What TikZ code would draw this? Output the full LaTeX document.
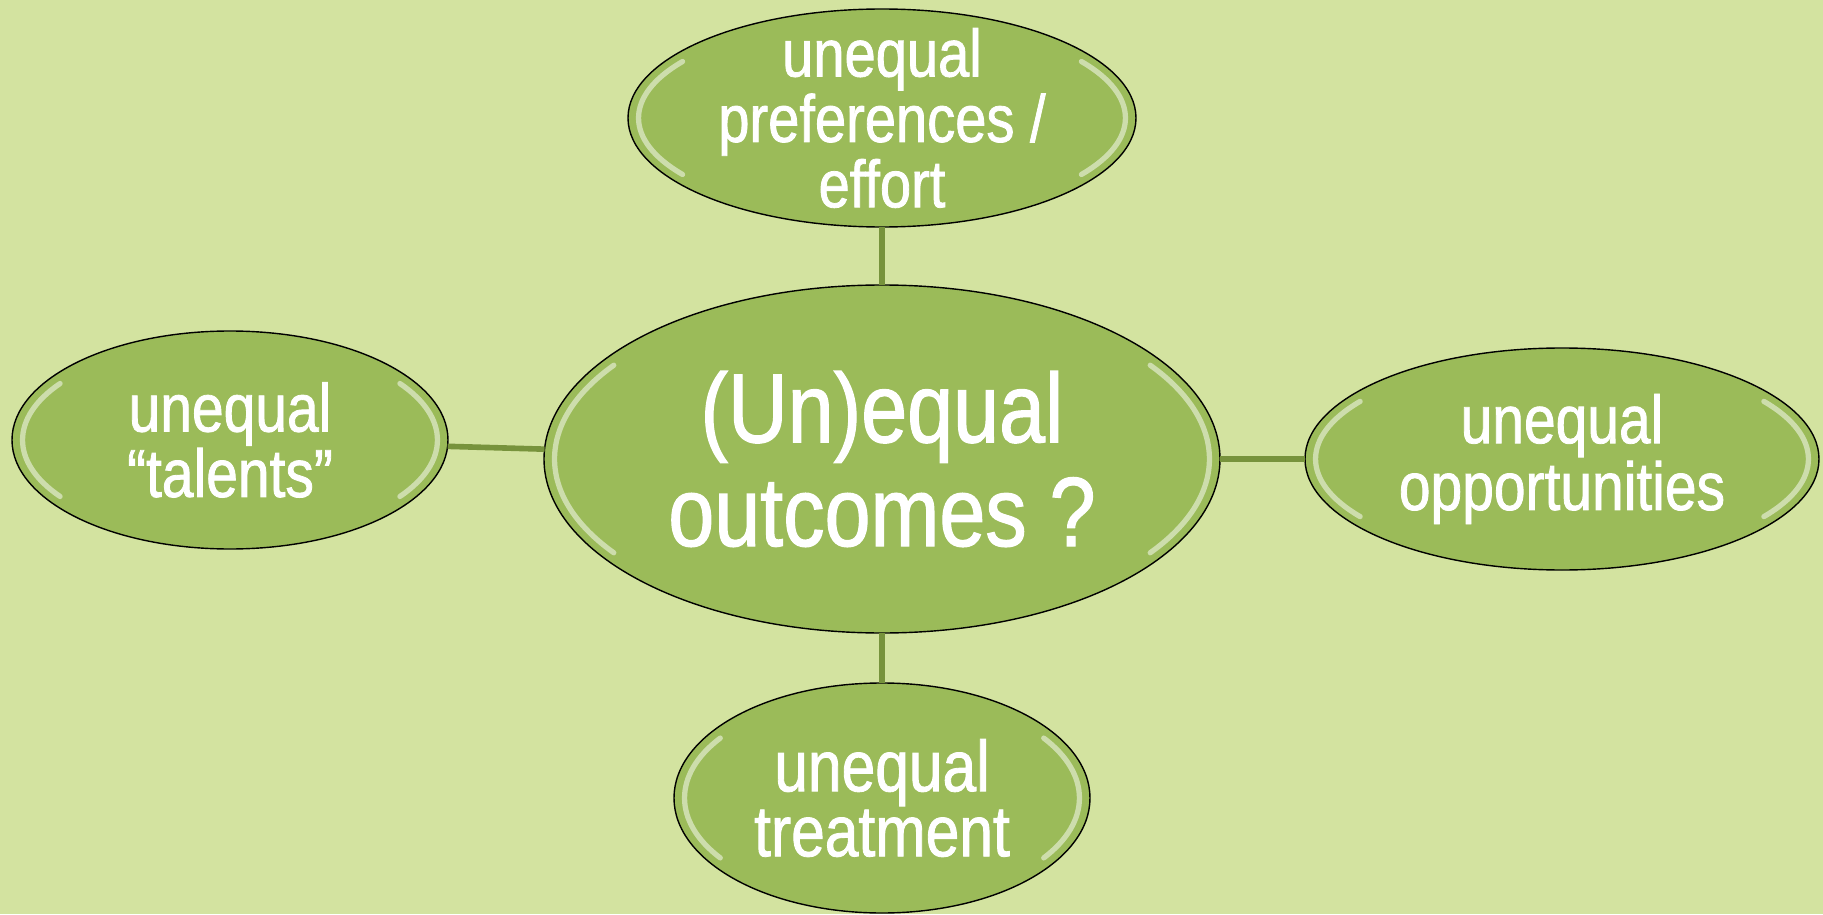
\documentclass[tikz,border=0pt]{standalone}
\usepackage{fontspec}
\setmainfont{Liberation Sans}[FakeStretch=0.84, FakeBold=1.2]
\usepackage{tikz}
\usetikzlibrary{positioning, shapes.geometric, calc}
\usepackage{xcolor}
\definecolor{pagegreen}{RGB}{211,227,160}
\definecolor{bubblegreen}{RGB}{155,187,89}
\definecolor{linkgreen}{RGB}{119,147,60}

\begin{document}
\begin{tikzpicture}[
    every node/.style={text=white, align=center},
    bubble/.style={ellipse, draw=black, thin, fill=bubblegreen, inner sep=0pt, outer sep=0pt, gloss},
    % light rims on the left and right inside each bubble
    gloss/.style={path picture={
        \path let \p1=($(path picture bounding box.north east)-(path picture bounding box.center)$) in
            [draw=white, draw opacity=.5, line width=1.5pt, line cap=round]
            ($(path picture bounding box.center)+(145:{\x1-3pt} and {\y1-3pt})$)
                arc[start angle=145, end angle=215, x radius={\x1-3pt}, y radius={\y1-3pt}]
            ($(path picture bounding box.center)+(-35:{\x1-3pt} and {\y1-3pt})$)
                arc[start angle=-35, end angle=35, x radius={\x1-3pt}, y radius={\y1-3pt}];
    }},
    link/.style={draw=linkgreen, line width=1.6pt}
]
\fill[pagegreen] (0,0) rectangle (18.23,9.14);
\useasboundingbox (0,0) rectangle (18.23,9.14);
\node[bubble, minimum width=6.76cm, minimum height=3.48cm, font=\fontsize{28}{29.5}\selectfont] (C) at (8.82,4.55) {(Un)equal\\outcomes ?};
\node[bubble, minimum width=5.08cm, minimum height=2.18cm, inner ysep=-12pt, above=0.58cm of C, font=\fontsize{19}{18.6}\selectfont] (P) {unequal\\preferences /\\effort};
\node[bubble, minimum width=4.36cm, minimum height=2.18cm, left=0.96cm of C, yshift=0.19cm, font=\fontsize{19.3}{18.6}\selectfont] (T) {unequal\\“talents”};
\node[bubble, minimum width=5.14cm, minimum height=2.22cm, right=0.85cm of C, font=\fontsize{19.3}{19}\selectfont] (O) {unequal\\opportunities};
\node[bubble, minimum width=4.16cm, minimum height=2.30cm, below=0.5cm of C, font=\fontsize{20.5}{18.5}\selectfont] (R) {unequal\\treatment};
\draw[link] (C) -- (P);
\draw[link] (C) -- (T);
\draw[link] (C) -- (O);
\draw[link] (C) -- (R);
\end{tikzpicture}
\end{document}
